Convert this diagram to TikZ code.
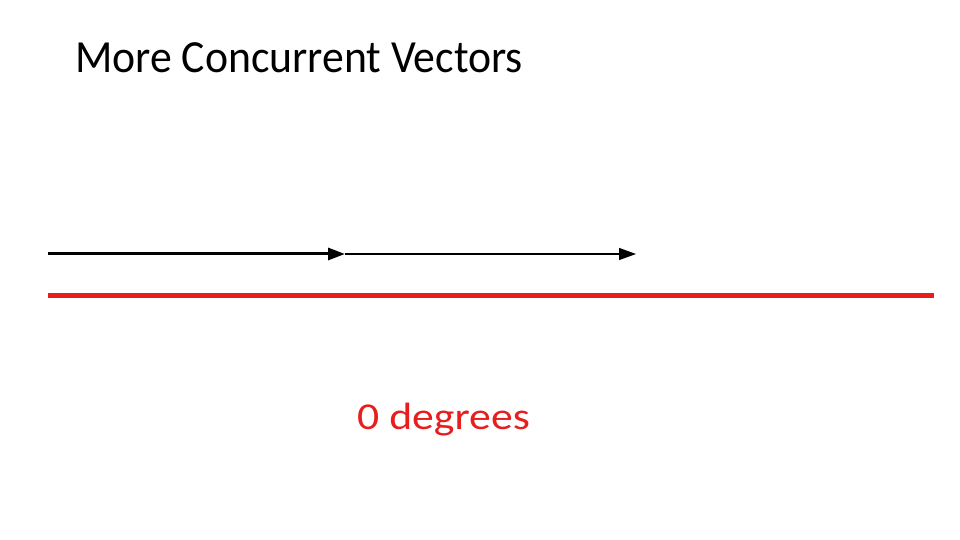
\documentclass[tikz,border=0pt]{standalone}
\usepackage{fontspec}
\setmainfont{Carlito}
\usetikzlibrary{arrows.meta}
\definecolor{myred}{RGB}{230,30,30}
\begin{document}
\begin{tikzpicture}[x=1pt,y=1pt,
  vec/.style={-{Triangle[length=17pt,width=12pt]}, black}]
\useasboundingbox (0,0) rectangle (960,540);
\node[anchor=base west, inner sep=0, xscale=0.95, font=\fontsize{46}{54}\selectfont] (title) at (75,467) {More Concurrent Vectors};
\coordinate (a0) at (48,286);
\coordinate (a1) at (345,286);
\coordinate (a2) at (636,286);
\draw[vec, line width=3pt] (a0) -- (a1);
\draw[vec, line width=1.3pt] (a1) -- (a2);
\coordinate (r0) at (48,244);
\coordinate (r1) at (934,244);
\draw[myred, line width=5pt] (r0) -- (r1);
\node[anchor=base west, inner sep=0, xscale=1.15, text=myred, font=\fontsize{38}{46}\selectfont] (lbl) at (357,110) {0 degrees};
\end{tikzpicture}
\end{document}
